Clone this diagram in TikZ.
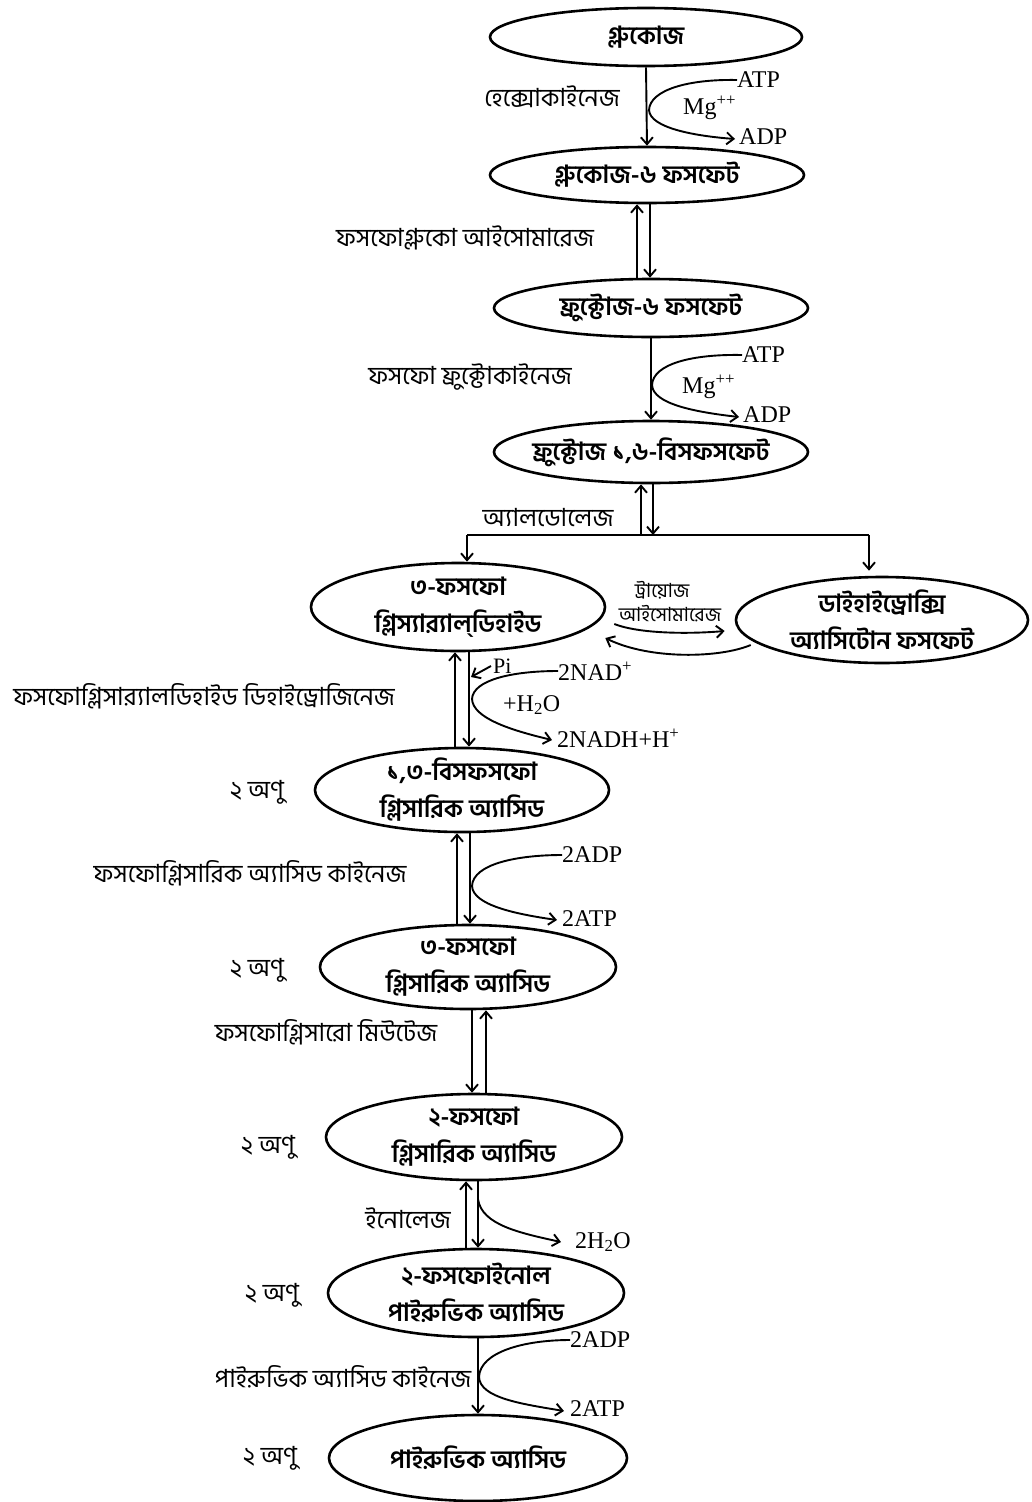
\documentclass[tikz,border=0pt]{standalone}
\usepackage{fontspec}
\setmainfont{Liberation Serif}
\newfontfamily\bn[Script=Bengali]{Hind Siliguri}
\usetikzlibrary{shapes.geometric,arrows.meta,calc}

\begin{document}
\begin{tikzpicture}[x=1pt,y=-1pt,
  bubble/.style={draw, ellipse, line width=2.6pt, inner sep=0pt},
  btext/.style={font={\bn\bfseries\fontsize{25}{37}\selectfont}, align=center, inner sep=0pt},
  enz/.style={font={\bn\fontsize{25}{28}\selectfont}, inner sep=0pt},
  small/.style={font={\bn\fontsize{19.5}{22}\selectfont}, inner sep=0pt},
  chem/.style={font={\fontsize{24}{28}\selectfont}, inner sep=0pt, anchor=west},
  ln/.style={line width=1.9pt},
  arr/.style={line width=1.9pt, -{Straight Barb[length=7pt,width=12pt,line width=1.9pt]}},
]
\useasboundingbox (0,0) rectangle (1031,1502);

% ---- metabolites ----
\node[bubble, minimum width=312pt, minimum height=58pt] (e1) at (646,37) {};
\node[btext] (t1) at (e1) {গ্লুকোজ};
\node[bubble, minimum width=314pt, minimum height=56pt] (e2) at (647,175) {};
\node[btext] (t2) at (e2) {গ্লুকোজ-৬ ফসফেট};
\node[bubble, minimum width=314pt, minimum height=58pt] (e3) at (651,308) {};
\node[btext] (t3) at (e3) {ফ্রুক্টোজ-৬ ফসফেট};
\node[bubble, minimum width=314pt, minimum height=62pt] (e4) at (651,452) {};
\node[btext] (t4) at (e4) {ফ্রুক্টোজ ১,৬-বিসফসফেট};
\node[bubble, minimum width=294pt, minimum height=88pt] (e5) at (458,607) {};
\node[btext] (t5) at (e5) {৩-ফসফো\\গ্লিস্যার^^^^200d্যাল্^^^^200cডিহাইড};
\node[bubble, minimum width=292pt, minimum height=86pt] (e6) at (882,620) {};
\node[btext] (t6) at (e6) {ডাইহাইড্রোক্সি\\অ্যাসিটোন ফসফেট};
\node[bubble, minimum width=294pt, minimum height=84pt] (e7) at (462,790) {};
\node[btext] (t7) at (e7) {১,৩-বিসফসফো\\গ্লিসারিক অ্যাসিড};
\node[bubble, minimum width=296pt, minimum height=84pt] (e8) at (468,967) {};
\node[btext] (t8) at (e8) {৩-ফসফো\\গ্লিসারিক অ্যাসিড};
\node[bubble, minimum width=296pt, minimum height=86pt] (e9) at (474,1137) {};
\node[btext] (t9) at (e9) {২-ফসফো\\গ্লিসারিক অ্যাসিড};
\node[bubble, minimum width=296pt, minimum height=88pt] (e10) at (476,1293) {};
\node[btext] (t10) at (e10) {২-ফসফোইনোল\\পাইরুভিক অ্যাসিড};
\node[bubble, minimum width=298pt, minimum height=86pt] (e11) at (478,1458) {};
\node[btext] (t11) at (e11) {পাইরুভিক অ্যাসিড};

% ---- molecule counts ----
\node[enz] (n7) at (257,792) {২ অণু};
\node[enz] (n8) at (257,970) {২ অণু};
\node[enz] (n9) at (268,1147) {২ অণু};
\node[enz] (n10) at (272,1295) {২ অণু};
\node[enz] (n11) at (270,1458) {২ অণু};

% ---- glucose -> glucose-6-phosphate ----
\draw[arr] (e1.south) -- (e2.north);
\node[enz] (hk) at (552,97) {হেক্সোকাইনেজ};
\node[chem] (atp1) at (737,80) {ATP};
\node[chem] (mg1) at (683,108) {Mg\textsuperscript{++}};
\node[chem] (adp1) at (739,137) {ADP};
\draw[arr] (atp1.west) .. controls (688,79) and (650,90) .. (649,110)
  .. controls (650,128) and (695,136) .. ($(adp1.west)+(-4,2)$);

% ---- glucose-6-phosphate <-> fructose-6-phosphate ----
\coordinate (u1) at ($(e2.south)+(-10,0)$);
\coordinate (d1) at ($(e2.south)+(3,0)$);
\draw[arr] (u1 |- e3.north) -- (u1);
\draw[arr] (d1) -- (d1 |- e3.north);
\node[enz] (pgi) at (465,238) {ফসফোগ্লুকো আইসোমারেজ};

% ---- fructose-6-phosphate -> fructose-1,6-bisphosphate ----
\draw[arr] (e3.south) -- (e4.north);
\node[enz] (pfk) at (470,377) {ফসফো ফ্রুক্টোকাইনেজ};
\node[chem] (atp2) at (742,355) {ATP};
\node[chem] (mg2) at (682,387) {Mg\textsuperscript{++}};
\node[chem] (adp2) at (743,415) {ADP};
\draw[arr] (atp2.west) .. controls (692,354) and (653,364) .. (652,385)
  .. controls (653,404) and (695,412) .. ($(adp2.west)+(-4,2)$);

% ---- aldolase split ----
\coordinate (u2) at ($(e4.south)+(-10,0)$);
\coordinate (d2) at ($(e4.south)+(2,0)$);
\coordinate (bl) at (467,535);
\coordinate (br) at (869,535);
\draw[arr] (u2 |- bl) -- (u2);
\draw[arr] (d2) -- (d2 |- bl);
\draw[ln] (bl) -- (br);
\draw[arr] (bl) -- (bl |- e5.north);
\draw[arr] (br) -- ($(br |- e6.north)+(0,-5)$);
\node[enz] (ald) at (548,518) {অ্যালডোলেজ};

% ---- triose phosphate isomerase ----
\node[small] (tpi1) at (662,590) {ট্রায়োজ};
\node[small] (tpi2) at (670,614) {আইসোমারেজ};
\draw[arr] ($(e5.east)+(8,17)$) .. controls (640,634) and (690,634) .. ($(e6.west)+(-10,11)$);
\draw[arr] ($(e6.west)+(16,25)$) .. controls (720,658) and (650,660) .. ($(e5.east)+(-1,31)$);

% ---- G3P dehydrogenase ----
\coordinate (u3) at ($(e5.south)+(-3,0)$);
\coordinate (d3) at ($(e5.south)+(11,0)$);
\draw[arr] (u3 |- e7.north) -- (u3);
\draw[arr] (d3) -- (d3 |- e7.north);
\node[enz] (gapdh) at (204,696) {ফসফোগ্লিসার^^^^200d্যালডিহাইড ডিহাইড্রোজিনেজ};
\node[chem, font={\fontsize{22}{26}\selectfont}] (pi) at (493,666) {Pi};
\coordinate (pitip) at (471,677);
\draw[arr] ($(pi.west)+(-2,0)$) -- (pitip);
\node[chem] (nad) at (558,671) {2NAD\textsuperscript{+}};
\node[chem] (h2o1) at (503,705) {+H\textsubscript{2}O};
\node[chem] (nadh) at (557,738) {2NADH+H\textsuperscript{+}};
\draw[arr] (nad.west) .. controls (512,671) and (473,680) .. (472,699)
  .. controls (473,718) and (510,730) .. ($(nadh.west)+(-5,2)$);

% ---- phosphoglycerate kinase ----
\coordinate (u4) at ($(e7.south)+(-5,0)$);
\coordinate (d4) at ($(e7.south)+(8,0)$);
\draw[arr] (u4 |- e8.north) -- (u4);
\draw[arr] (d4) -- (d4 |- e8.north);
\node[enz] (pgk) at (250,873) {ফসফোগ্লিসারিক অ্যাসিড কাইনেজ};
\node[chem] (adp3) at (562,855) {2ADP};
\node[chem] (atp3) at (562,919) {2ATP};
\draw[arr] (adp3.west) .. controls (517,855) and (473,864) .. (472,886)
  .. controls (473,905) and (515,914) .. ($(atp3.west)+(-5,1)$);

% ---- phosphoglycerate mutase ----
\coordinate (d5) at ($(e8.south)+(4,0)$);
\coordinate (u5) at ($(e8.south)+(18,0)$);
\draw[arr] (d5) -- (d5 |- e9.north);
\draw[arr] (u5 |- e9.north) -- (u5);
\node[enz] (pgm) at (326,1032) {ফসফোগ্লিসারো মিউটেজ};

% ---- enolase ----
\coordinate (u6) at ($(e9.south)+(-8,0)$);
\coordinate (d6) at ($(e9.south)+(4,0)$);
\coordinate (w6) at ($(e9.south)+(4,18)$);
\draw[arr] (u6 |- e10.north) -- (u6);
\draw[arr] (d6) -- (d6 |- e10.north);
\node[enz] (eno) at (408,1218) {ইনোলেজ};
\node[chem] (h2o2) at (575,1242) {2H\textsubscript{2}O};
\draw[arr] (w6) .. controls (482,1225) and (520,1233) .. ($(h2o2.west)+(-14,0)$);

% ---- pyruvate kinase ----
\draw[arr] ($(e10.south)+(2,0)$) -- (e11.north);
\node[enz] (pk) at (343,1377) {পাইরুভিক অ্যাসিড কাইনেজ};
\node[chem] (adp4) at (570,1340) {2ADP};
\node[chem] (atp4) at (570,1409) {2ATP};
\draw[arr] (adp4.west) .. controls (524,1340) and (480,1352) .. (479,1377)
  .. controls (480,1398) and (522,1404) .. ($(atp4.west)+(-6,2)$);

\end{tikzpicture}
\end{document}
